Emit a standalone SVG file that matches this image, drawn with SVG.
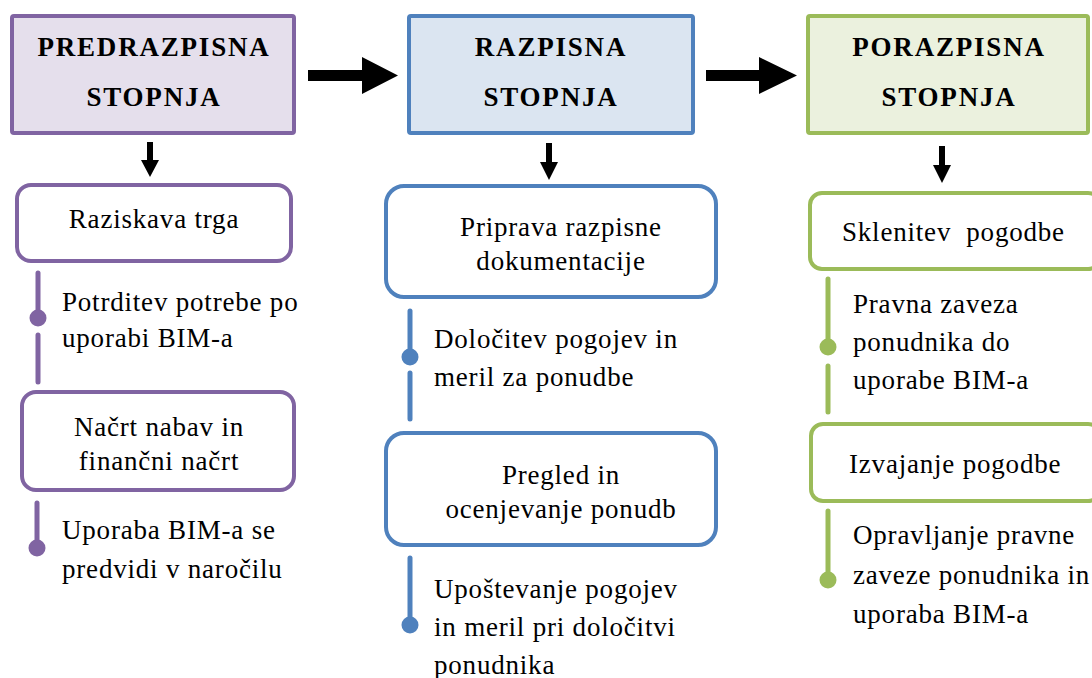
<svg xmlns="http://www.w3.org/2000/svg" width="1092" height="678" viewBox="0 0 1092 678" font-family="'Liberation Serif', Tinos, 'Times New Roman', Times, serif">
<style>
text{font-family:'Liberation Serif',Tinos,'Times New Roman',Times,serif;font-size:27px;letter-spacing:0.8px;fill:#000}
.h{font-weight:bold;font-size:27px;letter-spacing:1.8px;text-anchor:middle}
.c{text-anchor:middle}
.stage{stroke-width:4}
.sub{fill:#fff;stroke-width:4}
.p{stroke:#8064A2}
.b{stroke:#4F81BD}
.g{stroke:#9BBB59}
.ln{stroke-width:5;stroke-linecap:round;fill:none}
.arr{fill:#000}
</style>
<rect width="1092" height="678" fill="#fff"/>
<g id="connectors">
<polygon class="arr" points="308,70 362,70 362,57 398,75.5 362,94 362,81 308,81"/>
<polygon class="arr" points="706,70 759,70 759,57 797,75.5 759,94 759,81 706,81"/>
<polygon class="arr" points="147,142 153,142 153,160 159,160 150,177 141,160 147,160"/>
<polygon class="arr" points="546,143 552,143 552,162 558,162 549,180 540,162 546,162"/>
<polygon class="arr" points="939,146 945,146 945,165 951,165 942,183 933,165 939,165"/>
</g>
<g id="stage1">
<rect class="stage p" x="12" y="16" width="282" height="117" rx="2" fill="#E5DFEC"/>
<text class="h" x="154" y="56">PREDRAZPISNA</text>
<text class="h" x="154" y="106">STOPNJA</text>
</g>
<g id="stage2">
<rect class="stage b" x="409" y="16" width="284" height="117" rx="2" fill="#DBE5F1"/>
<text class="h" x="551" y="56">RAZPISNA</text>
<text class="h" x="551" y="106">STOPNJA</text>
</g>
<g id="stage3">
<rect class="stage g" x="808" y="16" width="280" height="117" rx="2" fill="#EBF1DE"/>
<text class="h" x="949" y="56">PORAZPISNA</text>
<text class="h" x="949" y="106">STOPNJA</text>
</g>
<g id="raziskava">
<rect class="sub p" x="17" y="185" width="274" height="76" rx="14"/>
<text class="c" x="154" y="228">Raziskava trga</text>
</g>
<g id="potrditev">
<line class="ln p" x1="38" y1="273" x2="38" y2="312"/>
<circle cx="38" cy="318" r="8.5" fill="#8064A2"/>
<line class="ln p" x1="38" y1="335" x2="38" y2="382"/>
<text x="62" y="311">Potrditev potrebe po</text>
<text x="62" y="347">uporabi BIM-a</text>
</g>
<g id="nacrt">
<rect class="sub p" x="22" y="392" width="272" height="98" rx="14"/>
<text class="c" x="159" y="436">Načrt nabav in</text>
<text class="c" x="159" y="470">finančni načrt</text>
</g>
<g id="uporaba">
<line class="ln p" x1="37" y1="503" x2="37" y2="545"/>
<circle cx="37" cy="548" r="8.5" fill="#8064A2"/>
<text x="62" y="539">Uporaba BIM-a se</text>
<text x="62" y="578">predvidi v naročilu</text>
</g>
<g id="priprava">
<rect class="sub b" x="386" y="186" width="330" height="111" rx="18"/>
<text class="c" x="561" y="236">Priprava razpisne</text>
<text class="c" x="561" y="270">dokumentacije</text>
</g>
<g id="dolocitev">
<line class="ln b" x1="410" y1="311" x2="410" y2="352"/>
<circle cx="410" cy="357" r="8.5" fill="#4F81BD"/>
<line class="ln b" x1="410" y1="373" x2="410" y2="419"/>
<text x="434" y="348">Določitev pogojev in</text>
<text x="434" y="386">meril za ponudbe</text>
</g>
<g id="pregled">
<rect class="sub b" x="386" y="433" width="330" height="112" rx="18"/>
<text class="c" x="561" y="484">Pregled in</text>
<text class="c" x="561" y="518">ocenjevanje ponudb</text>
</g>
<g id="upostevanje">
<line class="ln b" x1="410" y1="558" x2="410" y2="620"/>
<circle cx="410" cy="625" r="8.5" fill="#4F81BD"/>
<text x="434" y="598">Upoštevanje pogojev</text>
<text x="434" y="636">in meril pri določitvi</text>
<text x="434" y="674">ponudnika</text>
</g>
<g id="sklenitev">
<rect class="sub g" x="810" y="193" width="290" height="76" rx="12"/>
<text x="842" y="241" xml:space="preserve">Sklenitev  pogodbe</text>
</g>
<g id="pravna">
<line class="ln g" x1="828" y1="279" x2="828" y2="342"/>
<circle cx="828" cy="347" r="8.5" fill="#9BBB59"/>
<line class="ln g" x1="828" y1="366" x2="828" y2="412"/>
<text x="853" y="313">Pravna zaveza</text>
<text x="853" y="351">ponudnika do</text>
<text x="853" y="389">uporabe BIM-a</text>
</g>
<g id="izvajanje">
<rect class="sub g" x="811" y="424" width="289" height="77" rx="12"/>
<text x="849" y="473">Izvajanje pogodbe</text>
</g>
<g id="opravljanje">
<line class="ln g" x1="828" y1="511" x2="828" y2="575"/>
<circle cx="828" cy="580" r="8.5" fill="#9BBB59"/>
<text x="853" y="544">Opravljanje pravne</text>
<text x="853" y="584">zaveze ponudnika in</text>
<text x="853" y="623">uporaba BIM-a</text>
</g>
</svg>
